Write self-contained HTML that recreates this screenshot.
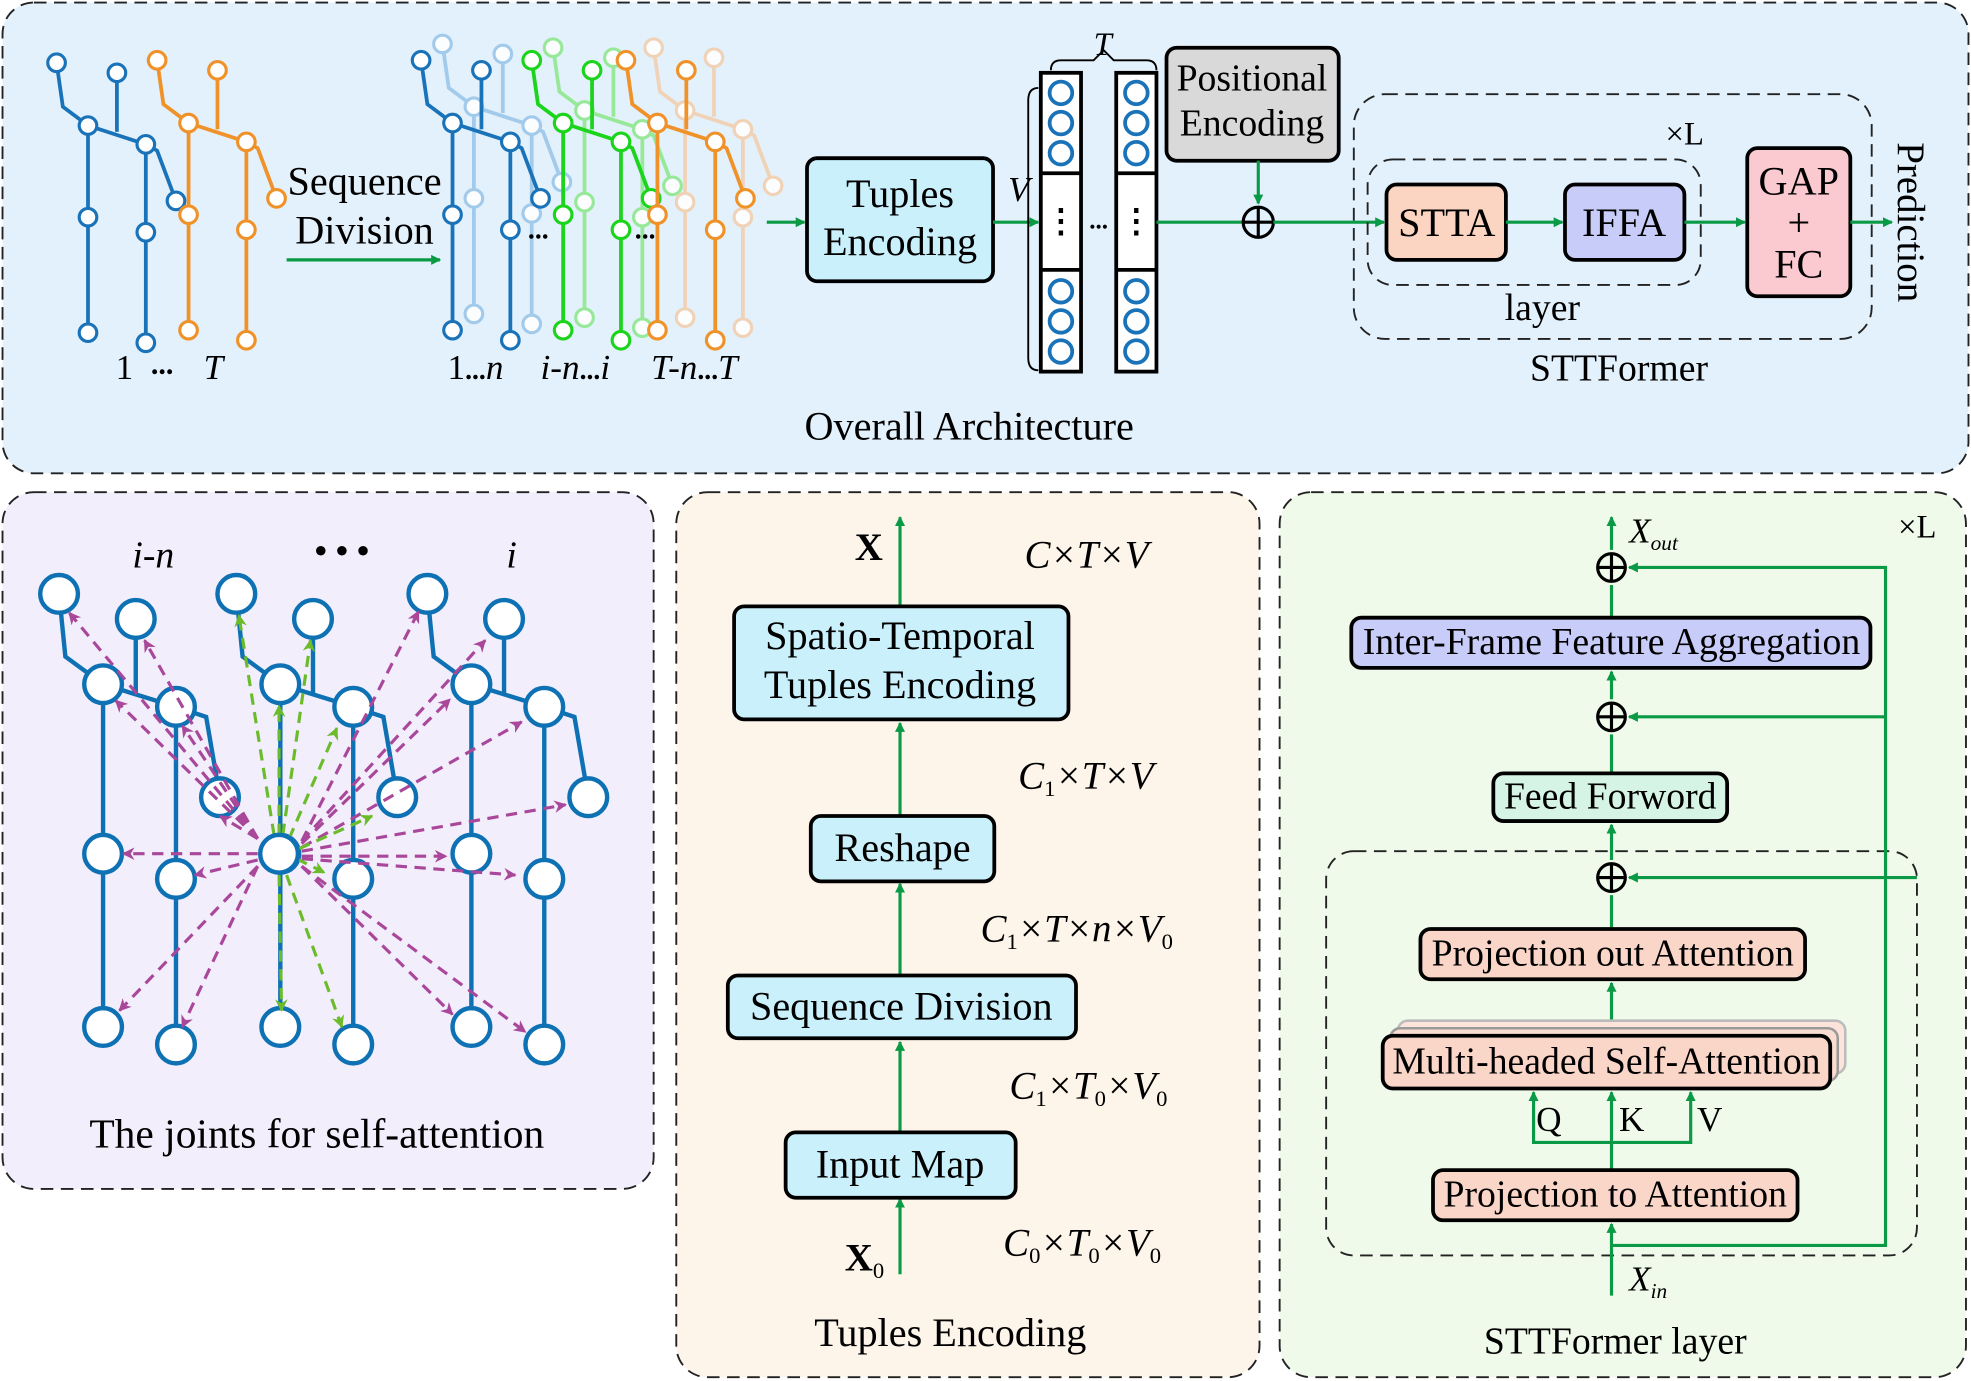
<!DOCTYPE html>
<html><head><meta charset="utf-8"><style>
html,body{margin:0;padding:0;background:#fff}
svg{display:block}
text{font-family:"Liberation Serif",serif;fill:#000}
</style></head><body>
<svg width="1971" height="1381" viewBox="0 0 1568 1100" preserveAspectRatio="none" xmlns="http://www.w3.org/2000/svg">
<defs>
<marker id="ag" markerWidth="8" markerHeight="8" refX="7" refY="4" orient="auto" markerUnits="userSpaceOnUse"><path d="M0,0 L8,4 L0,8 Z" fill="#0a9a45"/></marker>
<marker id="am" markerWidth="10" markerHeight="10" refX="9" refY="5" orient="auto" markerUnits="userSpaceOnUse"><path d="M0,0 L10,5 L0,10 L3,5 Z" fill="#a9479a"/></marker>
<marker id="al" markerWidth="10" markerHeight="10" refX="9" refY="5" orient="auto" markerUnits="userSpaceOnUse"><path d="M0,0 L10,5 L0,10 L3,5 Z" fill="#6cbb2a"/></marker>
<g id="sk" fill="none" stroke-width="3">
<polyline points="0,0 5,35 25,50 71,65 80,70 95,110"/>
<line x1="48" y1="8" x2="48" y2="55"/>
<line x1="25" y1="50" x2="25" y2="215"/>
<line x1="71" y1="65" x2="71" y2="223"/>
<g fill="#fff" stroke-width="2.5">
<circle cx="0" cy="0" r="7"/><circle cx="48" cy="8" r="7"/><circle cx="25" cy="50" r="7"/><circle cx="71" cy="65" r="7"/><circle cx="95" cy="110" r="7"/><circle cx="25" cy="123" r="7"/><circle cx="71" cy="135" r="7"/><circle cx="25" cy="215" r="7"/><circle cx="71" cy="223" r="7"/>
</g></g>
<g id="sb" fill="none" stroke="#0e71b4" stroke-width="3.5">
<polyline points="0,0 5,50 35,72 93,90 117,98 128,162"/>
<line x1="61" y1="20" x2="61" y2="80"/>
<line x1="35" y1="72" x2="35" y2="345"/>
<line x1="93" y1="90" x2="93" y2="359"/>
<g fill="#fff">
<circle cx="0" cy="0" r="15"/><circle cx="61" cy="20" r="15"/><circle cx="35" cy="72" r="15"/><circle cx="93" cy="90" r="15"/><circle cx="128" cy="162" r="15"/><circle cx="35" cy="207" r="15"/><circle cx="93" cy="227" r="15"/><circle cx="35" cy="345" r="15"/><circle cx="93" cy="359" r="15"/>
</g></g>
</defs>

<rect x="2" y="2" width="1564" height="375" rx="25" fill="#e3f1fc" stroke="#222" stroke-width="1.5" stroke-dasharray="10,6"/>
<rect x="2" y="392" width="518" height="555" rx="25" fill="#f2eefc" stroke="#222" stroke-width="1.5" stroke-dasharray="10,6"/>
<rect x="538" y="392" width="464" height="705" rx="25" fill="#fdf4ea" stroke="#222" stroke-width="1.5" stroke-dasharray="10,6"/>
<rect x="1018" y="392" width="546" height="705" rx="25" fill="#effaea" stroke="#222" stroke-width="1.5" stroke-dasharray="10,6"/>

<use href="#sk" x="45" y="50" stroke="#1a73b8"/>
<use href="#sk" x="125" y="48" stroke="#f0922a"/>
<text x="92" y="302" font-size="28">1</text><text x="120" y="298" font-size="24" font-weight="bold">...</text><text x="162" y="302" font-size="28" font-style="italic">T</text>
<text x="290" y="155" font-size="32" text-anchor="middle">Sequence</text>
<text x="290" y="194" font-size="32" text-anchor="middle">Division</text>
<line x1="228" y1="207" x2="350" y2="207" stroke="#0a9a45" stroke-width="2.5" marker-end="url(#ag)"/>

<use href="#sk" x="352" y="35" stroke="#9cc6ea" opacity="0.9"/>
<use href="#sk" x="335" y="48" stroke="#1a73b8"/>
<use href="#sk" x="440" y="38" stroke="#8fe88f" opacity="0.9"/>
<use href="#sk" x="423" y="48" stroke="#1bd41b"/>
<use href="#sk" x="520" y="38" stroke="#f2cfb0" opacity="0.9"/>
<use href="#sk" x="498" y="48" stroke="#f0922a"/>
<text x="420" y="190" font-size="22" font-weight="bold">...</text>
<text x="505" y="190" font-size="22" font-weight="bold">...</text>
<text x="356" y="302" font-size="28">1<tspan font-weight="bold" font-size="22">...</tspan><tspan font-style="italic">n</tspan></text>
<text x="430" y="302" font-size="28" font-style="italic">i-n<tspan font-style="normal" font-weight="bold" font-size="22">...</tspan>i</text>
<text x="518" y="302" font-size="28" font-style="italic">T-n<tspan font-style="normal" font-weight="bold" font-size="22">...</tspan>T</text>
<line x1="610" y1="177" x2="640" y2="177" stroke="#0a9a45" stroke-width="2.5" marker-end="url(#ag)"/>

<rect x="642" y="126" width="148" height="98" rx="8" fill="#c9f0fb" stroke="#000" stroke-width="3"/>
<text x="716" y="165" font-size="32" text-anchor="middle">Tuples</text>
<text x="716" y="203" font-size="32" text-anchor="middle">Encoding</text>
<line x1="790" y1="177" x2="826" y2="177" stroke="#0a9a45" stroke-width="2.5" marker-end="url(#ag)"/>
<text x="802" y="160" font-size="28" font-style="italic">V</text>
<path d="M826,70 Q818,70 818,80 L818,285 Q818,295 826,295" fill="none" stroke="#000" stroke-width="1.5"/>
<path d="M836,56 Q836,48 844,48 L870,48 L878,40 L886,48 L912,48 Q920,48 920,56" fill="none" stroke="#000" stroke-width="1.5"/>
<text x="870" y="44" font-size="26" font-style="italic">T</text>
<g stroke="#000" stroke-width="3" fill="#fff">
<rect x="828" y="58" width="32" height="238"/><rect x="888" y="58" width="32" height="238"/>
<line x1="828" y1="138" x2="860" y2="138"/><line x1="828" y1="215" x2="860" y2="215"/>
<line x1="888" y1="138" x2="920" y2="138"/><line x1="888" y1="215" x2="920" y2="215"/>
</g>
<g fill="none" stroke="#1a73b8" stroke-width="3">
<circle cx="844" cy="74" r="9"/><circle cx="844" cy="98" r="9"/><circle cx="844" cy="122" r="9"/>
<circle cx="844" cy="232" r="9"/><circle cx="844" cy="256" r="9"/><circle cx="844" cy="280" r="9"/>
<circle cx="904" cy="74" r="9"/><circle cx="904" cy="98" r="9"/><circle cx="904" cy="122" r="9"/>
<circle cx="904" cy="232" r="9"/><circle cx="904" cy="256" r="9"/><circle cx="904" cy="280" r="9"/>
</g>
<text x="844" y="185" font-size="26" text-anchor="middle" font-weight="bold">⋮</text>
<text x="904" y="185" font-size="26" text-anchor="middle" font-weight="bold">⋮</text>
<text x="874" y="182" font-size="20" text-anchor="middle" font-weight="bold">...</text>

<rect x="928" y="38" width="137" height="90" rx="8" fill="#d9d9d9" stroke="#000" stroke-width="3"/>
<text x="996" y="72" font-size="30" text-anchor="middle">Positional</text>
<text x="996" y="108" font-size="30" text-anchor="middle">Encoding</text>
<line x1="1001" y1="128" x2="1001" y2="162" stroke="#0a9a45" stroke-width="2.5" marker-end="url(#ag)"/>
<line x1="920" y1="177" x2="988" y2="177" stroke="#0a9a45" stroke-width="2.5"/>
<circle cx="1001" cy="177" r="12" fill="none" stroke="#000" stroke-width="2.5"/>
<line x1="989" y1="177" x2="1013" y2="177" stroke="#000" stroke-width="2.5"/><line x1="1001" y1="165" x2="1001" y2="189" stroke="#000" stroke-width="2.5"/>
<line x1="1013" y1="177" x2="1101" y2="177" stroke="#0a9a45" stroke-width="2.5" marker-end="url(#ag)"/>

<rect x="1077" y="75" width="412" height="195" rx="25" fill="none" stroke="#222" stroke-width="1.5" stroke-dasharray="10,6"/>
<rect x="1088" y="127" width="265" height="100" rx="20" fill="none" stroke="#222" stroke-width="1.5" stroke-dasharray="10,6"/>
<text x="1325" y="115" font-size="26">×L</text>
<rect x="1103" y="147" width="95" height="60" rx="8" fill="#fcd5c2" stroke="#000" stroke-width="3"/>
<text x="1151" y="188" font-size="32" text-anchor="middle">STTA</text>
<line x1="1198" y1="177" x2="1243" y2="177" stroke="#0a9a45" stroke-width="2.5" marker-end="url(#ag)"/>
<rect x="1245" y="147" width="95" height="60" rx="8" fill="#c8ccf8" stroke="#000" stroke-width="3"/>
<text x="1292" y="188" font-size="32" text-anchor="middle">IFFA</text>
<line x1="1340" y1="177" x2="1388" y2="177" stroke="#0a9a45" stroke-width="2.5" marker-end="url(#ag)"/>
<text x="1227" y="255" font-size="30" text-anchor="middle">layer</text>
<text x="1288" y="303" font-size="30" text-anchor="middle">STTFormer</text>
<rect x="1390" y="118" width="82" height="118" rx="8" fill="#fbc9d0" stroke="#000" stroke-width="3"/>
<text x="1431" y="155" font-size="32" text-anchor="middle">GAP</text>
<text x="1431" y="188" font-size="32" text-anchor="middle">+</text>
<text x="1431" y="221" font-size="32" text-anchor="middle">FC</text>
<line x1="1472" y1="177" x2="1505" y2="177" stroke="#0a9a45" stroke-width="2.5" marker-end="url(#ag)"/>
<text x="1508" y="177" font-size="31" text-anchor="middle" transform="rotate(90 1508 177)" dy="-2">Prediction</text>
<text x="771" y="350" font-size="32" text-anchor="middle">Overall Architecture</text>

<text x="122" y="452" font-size="30" font-style="italic" text-anchor="middle">i-n</text>
<text x="272" y="448" font-size="28" font-weight="bold" text-anchor="middle">• • •</text>
<text x="407" y="452" font-size="30" font-style="italic" text-anchor="middle">i</text>
<use href="#sb" x="47" y="473"/>
<use href="#sb" x="188" y="473"/>
<use href="#sb" x="340" y="473"/>
<g stroke="#a9479a" stroke-width="2.5" stroke-dasharray="9,6" fill="none" marker-end="url(#am)">
<line x1="205" y1="668" x2="55" y2="488"/><line x1="205" y1="668" x2="115" y2="510"/>
<line x1="205" y1="668" x2="92" y2="558"/><line x1="205" y1="668" x2="145" y2="578"/>
<line x1="205" y1="668" x2="175" y2="650"/>
<line x1="205" y1="680" x2="98" y2="680"/><line x1="205" y1="685" x2="155" y2="697"/>
<line x1="205" y1="690" x2="95" y2="805"/><line x1="205" y1="690" x2="145" y2="818"/>
<line x1="240" y1="670" x2="333" y2="487"/><line x1="240" y1="670" x2="386" y2="510"/>
<line x1="240" y1="672" x2="358" y2="557"/><line x1="240" y1="675" x2="415" y2="575"/>
<line x1="240" y1="678" x2="450" y2="641"/>
<line x1="240" y1="682" x2="355" y2="682"/><line x1="240" y1="684" x2="410" y2="697"/>
<line x1="240" y1="690" x2="360" y2="808"/><line x1="240" y1="690" x2="418" y2="822"/>
</g>
<g stroke="#6cbb2a" stroke-width="2.5" stroke-dasharray="9,6" fill="none" marker-end="url(#al)">
<line x1="218" y1="665" x2="190" y2="490"/><line x1="225" y1="665" x2="247" y2="510"/>
<line x1="222" y1="665" x2="222" y2="562"/><line x1="230" y1="668" x2="268" y2="580"/>
<line x1="238" y1="676" x2="296" y2="650"/><line x1="236" y1="684" x2="258" y2="695"/>
<line x1="222" y1="697" x2="224" y2="805"/><line x1="228" y1="697" x2="272" y2="818"/>
</g>
<circle cx="222" cy="680" r="15" fill="#fff" stroke="#0e71b4" stroke-width="3.5"/>
<text x="252" y="914" font-size="33" text-anchor="middle">The joints for self-attention</text>

<g stroke="#0a9a45" stroke-width="2.5" marker-end="url(#ag)">
<line x1="716" y1="1015" x2="716" y2="955"/><line x1="716" y1="902" x2="716" y2="830"/>
<line x1="716" y1="777" x2="716" y2="704"/><line x1="716" y1="650" x2="716" y2="576"/>
<line x1="716" y1="483" x2="716" y2="412"/>
</g>
<g stroke="#000" stroke-width="3" fill="#c9f0fb">
<rect x="584" y="483" width="266" height="90" rx="8"/>
<rect x="645" y="650" width="146" height="52" rx="8"/>
<rect x="579" y="777" width="277" height="50" rx="8"/>
<rect x="625" y="902" width="183" height="52" rx="8"/>
</g>
<g font-size="32" text-anchor="middle">
<text x="716" y="517">Spatio-Temporal</text><text x="716" y="556">Tuples Encoding</text>
<text x="718" y="686">Reshape</text>
<text x="717" y="812">Sequence Division</text>
<text x="716" y="938">Input Map</text>
</g>
<text x="680" y="446" font-size="31" font-weight="bold">X</text>
<text x="672" y="1012" font-size="31" font-weight="bold">X<tspan font-size="18" font-weight="normal" dy="6">0</tspan></text>
<g font-size="31" font-style="italic">
<text x="815" y="452">C×T×V</text>
<text x="810" y="628">C<tspan font-size="18" font-style="normal" dy="6">1</tspan><tspan dy="-6">×T×V</tspan></text>
<text x="780" y="750">C<tspan font-size="18" font-style="normal" dy="6">1</tspan><tspan dy="-6">×T×n×V</tspan><tspan font-size="18" font-style="normal" dy="6">0</tspan></text>
<text x="803" y="875">C<tspan font-size="18" font-style="normal" dy="6">1</tspan><tspan dy="-6">×T</tspan><tspan font-size="18" font-style="normal" dy="6">0</tspan><tspan dy="-6">×V</tspan><tspan font-size="18" font-style="normal" dy="6">0</tspan></text>
<text x="798" y="1000">C<tspan font-size="18" font-style="normal" dy="6">0</tspan><tspan dy="-6">×T</tspan><tspan font-size="18" font-style="normal" dy="6">0</tspan><tspan dy="-6">×V</tspan><tspan font-size="18" font-style="normal" dy="6">0</tspan></text>
</g>
<text x="756" y="1072" font-size="32" text-anchor="middle">Tuples Encoding</text>

<rect x="1055" y="678" width="470" height="322" rx="22" fill="none" stroke="#222" stroke-width="1.5" stroke-dasharray="10,6"/>
<text x="1510" y="428" font-size="26">×L</text>
<g stroke="#0a9a45" stroke-width="2.5" fill="none">
<line x1="1282" y1="1032" x2="1282" y2="975" marker-end="url(#ag)"/>
<polyline points="1282,992 1500,992 1500,452 1296,452" marker-end="url(#ag)"/>
<line x1="1500" y1="571" x2="1296" y2="571" marker-end="url(#ag)"/>
<line x1="1525" y1="699" x2="1296" y2="699" marker-end="url(#ag)"/>
<line x1="1282" y1="932" x2="1282" y2="870" marker-end="url(#ag)"/>
<polyline points="1282,910 1220,910 1220,870" marker-end="url(#ag)"/>
<polyline points="1282,910 1345,910 1345,870" marker-end="url(#ag)"/>
<line x1="1282" y1="825" x2="1282" y2="783" marker-end="url(#ag)"/>
<line x1="1282" y1="740" x2="1282" y2="713"/>
<line x1="1282" y1="685" x2="1282" y2="657" marker-end="url(#ag)"/>
<line x1="1282" y1="616" x2="1282" y2="585"/>
<line x1="1282" y1="557" x2="1282" y2="535" marker-end="url(#ag)"/>
<line x1="1282" y1="492" x2="1282" y2="466"/>
<line x1="1282" y1="438" x2="1282" y2="412" marker-end="url(#ag)"/>
</g>
<g fill="none" stroke="#000" stroke-width="2.5">
<circle cx="1282" cy="452" r="11"/><circle cx="1282" cy="571" r="11"/><circle cx="1282" cy="699" r="11"/>
<path d="M1271,452 H1293 M1282,441 V463 M1271,571 H1293 M1282,560 V582 M1271,699 H1293 M1282,688 V710"/>
</g>
<g stroke="#000" stroke-width="3">
<rect x="1075" y="492" width="413" height="40" rx="8" fill="#c8ccf8"/>
<rect x="1188" y="616" width="186" height="38" rx="8" fill="#d5f4e6"/>
<rect x="1130" y="740" width="306" height="40" rx="8" fill="#fad6c8"/>
<rect x="1112" y="813" width="356" height="42" rx="8" fill="#fce4da" stroke="#bbb" stroke-width="2"/>
<rect x="1106" y="819" width="356" height="42" rx="8" fill="#fbdcd0" stroke="#999" stroke-width="2"/>
<rect x="1100" y="825" width="356" height="42" rx="8" fill="#fad6c8"/>
<rect x="1140" y="932" width="290" height="40" rx="8" fill="#fad6c8"/>
</g>
<g font-size="30" text-anchor="middle">
<text x="1282" y="521">Inter-Frame Feature Aggregation</text>
<text x="1281" y="644">Feed Forword</text>
<text x="1283" y="769">Projection out Attention</text>
<text x="1278" y="855">Multi-headed Self-Attention</text>
<text x="1285" y="961">Projection to Attention</text>
<text x="1285" y="1078">STTFormer layer</text>
</g>
<g font-size="28">
<text x="1222" y="901">Q</text><text x="1288" y="901">K</text><text x="1350" y="901">V</text>
</g>
<text x="1296" y="432" font-size="28" font-style="italic">X<tspan font-size="17" dy="6">out</tspan></text>
<text x="1296" y="1028" font-size="28" font-style="italic">X<tspan font-size="17" dy="6">in</tspan></text>
</svg>
</body></html>
